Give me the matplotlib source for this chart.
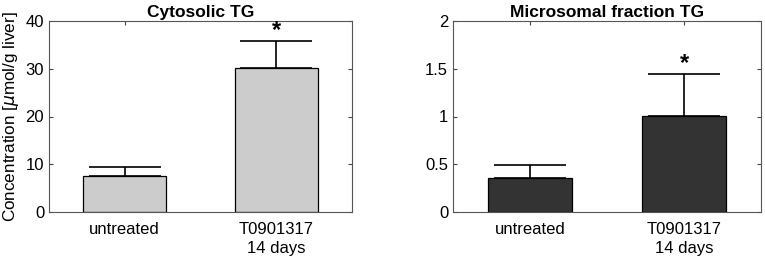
import numpy as np
import matplotlib.pyplot as plt

plt.rcParams['font.family'] = ['Liberation Sans', 'DejaVu Sans']

groups = ['untreated', 'T0901317\n14 days']
cyto_mean = [7.5, 30.1]
cyto_err = [2.0, 5.8]
micro_mean = [0.36, 1.01]
micro_err = [0.13, 0.43]


def panel(ax, means, errs, color, title, ylim, yticks, yticklabels, star_off):
    x = np.arange(1, len(means) + 1)
    ax.bar(x, means, width=0.55, color=color, edgecolor='black', linewidth=0.9, zorder=2)
    ax.errorbar(x, means, yerr=[np.zeros(len(errs)), errs], fmt='none', ecolor='black',
                elinewidth=1.2, capsize=26, capthick=1.2, zorder=3)
    # significance star over the treated group
    ax.text(x[1], means[1] + errs[1] + star_off, '*', ha='center', va='center',
            fontsize=17, fontweight='bold')
    ax.set_xlim(0.5, 2.5)
    ax.set_ylim(*ylim)
    ax.set_yticks(yticks)
    ax.set_yticklabels(yticklabels)
    ax.set_xticks(x)
    ax.set_xticklabels(groups, linespacing=1.35)
    ax.set_title(title, fontweight='bold', fontsize=12.5, pad=3)
    ax.tick_params(direction='in', top=True, right=True, labelsize=12, length=3, color='#444444')
    ax.tick_params(axis='x', pad=7)
    for s in ax.spines.values():
        s.set_color('#555555')
        s.set_linewidth(0.8)


fig = plt.figure(figsize=(7.65, 2.62), dpi=100)
ax1 = fig.add_axes([49 / 765, 50 / 262, 303 / 765, 191 / 262])
ax2 = fig.add_axes([453 / 765, 50 / 262, 308 / 765, 191 / 262])

panel(ax1, cyto_mean, cyto_err, '#cccccc', 'Cytosolic TG', (0, 40),
      [0, 10, 20, 30, 40], ['0', '10', '20', '30', '40'], 2.2)
ax1.set_ylabel(r'Concentration [$\mu$mol/g liver]', fontsize=12.3, labelpad=3)

panel(ax2, micro_mean, micro_err, '#333333', 'Microsomal fraction TG', (0, 2),
      [0, 0.5, 1, 1.5, 2], ['0', '0.5', '1', '1.5', '2'], 0.11)

fig.savefig('out.png', dpi=100)
